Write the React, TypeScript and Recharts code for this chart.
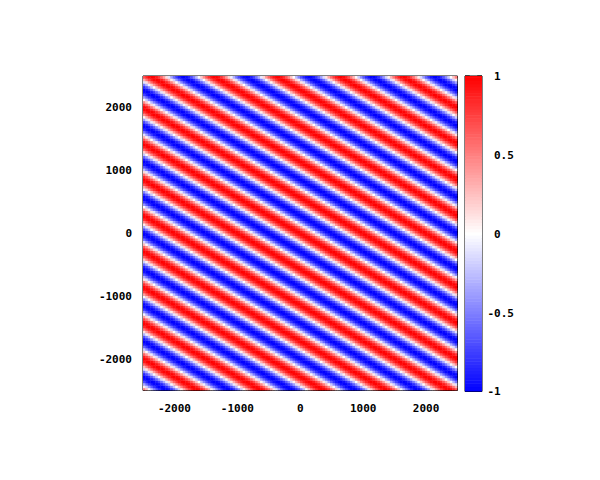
import React from 'react';
import { ScatterChart, Scatter, XAxis, YAxis, ReferenceArea, ReferenceLine } from 'recharts';

// Axis ranges and ticks
const xDomain: [number, number] = [-2500, 2500];
const yDomain: [number, number] = [-2500, 2500];
const xTicks = [-2000, -1000, 0, 1000, 2000];
const yTicks = [-2000, -1000, 0, 1000, 2000];
const cbDomain: [number, number] = [-1, 1];
const cbTicks = [-1, -0.5, 0, 0.5, 1];

// Plane-wave parameters read from the stripes (period along x and along y, data units)
const waveLengthX = 1000;
const waveLengthY = 570;
const gridSize = 126;

const gridCentres = Array.from({ length: gridSize }, (_, i) => xDomain[0] + ((i + 0.5) * (xDomain[1] - xDomain[0])) / gridSize);
const gridCentresY = Array.from({ length: gridSize }, (_, j) => yDomain[0] + ((j + 0.5) * (yDomain[1] - yDomain[0])) / gridSize);

const cells: { x: number; y: number; v: number }[] = [];
for (const y of gridCentresY) {
  for (const x of gridCentres) {
    cells.push({ x, y, v: Math.cos(2 * Math.PI * (x / waveLengthX + y / waveLengthY)) });
  }
}

// colour-bar levels (palette: blue - white - red)
const cbLevels = Array.from({ length: 101 }, (_, i) => cbDomain[0] + (i * (cbDomain[1] - cbDomain[0])) / 100);
const cbCells = cbLevels.map((v) => ({ x: 0.5, y: v, v }));

// layout
const W = 600;
const H = 480;
const PLOT_L = 143;
const PLOT_T = 76;
const PLOT_R = 457.5;
const PLOT_B = 390.5;
const PLOT_W = PLOT_R - PLOT_L;
const PLOT_H = PLOT_B - PLOT_T;
const CB_L = 465;
const CB_R = 482;
const CB_B = 391.5;
const CB_W = CB_R - CB_L;
const CB_H = CB_B - PLOT_T;

const FONT = { fontFamily: '"DejaVu Sans Mono", monospace', fontSize: 11, fontWeight: 700, fill: '#000' };

function colour(v: number): string {
  if (v >= 0) {
    const c = Math.round(255 * (1 - v));
    return `rgb(255,${c},${c})`;
  }
  const c = Math.round(255 * (1 + v));
  return `rgb(${c},${c},255)`;
}

const cw = PLOT_W / gridSize + 0.4;
const ch = PLOT_H / gridSize + 0.4;

const Cell = (props: any) => {
  const { cx, cy, payload } = props;
  if (cx == null || cy == null) return null;
  return <rect x={cx - cw / 2} y={cy - ch / 2} width={cw} height={ch} fill={colour(payload.v)} stroke="none" />;
};

const cbch = CB_H / (cbLevels.length - 1) + 0.5;
const CbCell = (props: any) => {
  const { cx, cy, payload } = props;
  if (cx == null || cy == null) return null;
  const top = Math.max(cy - cbch / 2, PLOT_T);
  const bot = Math.min(cy + cbch / 2, CB_B);
  return <rect x={cx - CB_W / 2} y={top} width={CB_W} height={bot - top} fill={colour(payload.v)} stroke="none" />;
};

const tickLenX = (6 / PLOT_W) * (xDomain[1] - xDomain[0]);
const tickLenY = (6 / PLOT_H) * (yDomain[1] - yDomain[0]);

const CbTick = (props: any) => {
  const { x, y, payload } = props;
  const v = payload.value as number;
  return (
    <text x={v < 0 ? x - 6.6 : x} y={y} dy="0.36em" textAnchor="start" {...FONT}>
      {String(v)}
    </text>
  );
};

export default function App() {
  const yAxisW = 60;
  const xAxisH = 30;
  const cbAxisW = 60;
  return (
    <div style={{ position: 'absolute', left: 0, top: 0, width: W, height: H, background: '#fff' }}>
      <div style={{ position: 'absolute', left: 0, top: 0 }}>
        <ScatterChart
          width={W}
          height={H}
          margin={{ left: PLOT_L - yAxisW, top: PLOT_T, right: W - PLOT_R, bottom: H - PLOT_B - xAxisH }}
        >
          <XAxis
            type="number"
            dataKey="x"
            domain={xDomain}
            ticks={xTicks}
            interval={0}
            allowDataOverflow
            height={xAxisH}
            tickLine={false}
            axisLine={false}
            tickSize={6}
            tickMargin={8}
            tick={FONT}
          />
          <YAxis
            type="number"
            dataKey="y"
            domain={yDomain}
            ticks={yTicks}
            interval={0}
            allowDataOverflow
            width={yAxisW}
            tickLine={false}
            axisLine={false}
            tickSize={6}
            tickMargin={5}
            tick={FONT}
          />
          <Scatter data={cells} shape={Cell} isAnimationActive={false} />
          <ReferenceArea x1={xDomain[0]} x2={xDomain[1]} y1={yDomain[0]} y2={yDomain[1]} fill="none" stroke="#000" strokeWidth={1} fillOpacity={0} strokeOpacity={1} />
          {xTicks.map((t) => (
            <ReferenceLine key={'b' + t} segment={[{ x: t, y: yDomain[0] }, { x: t, y: yDomain[0] + tickLenY }]} stroke="#000" strokeWidth={1} />
          ))}
          {xTicks.map((t) => (
            <ReferenceLine key={'t' + t} segment={[{ x: t, y: yDomain[1] }, { x: t, y: yDomain[1] - tickLenY }]} stroke="#000" strokeWidth={1} />
          ))}
          {yTicks.map((t) => (
            <ReferenceLine key={'l' + t} segment={[{ x: xDomain[0], y: t }, { x: xDomain[0] + tickLenX, y: t }]} stroke="#000" strokeWidth={1} />
          ))}
          {yTicks.map((t) => (
            <ReferenceLine key={'r' + t} segment={[{ x: xDomain[1], y: t }, { x: xDomain[1] - tickLenX, y: t }]} stroke="#000" strokeWidth={1} />
          ))}
        </ScatterChart>
      </div>
      <div style={{ position: 'absolute', left: 0, top: 0 }}>
        <ScatterChart
          width={W}
          height={H}
          margin={{ left: CB_L, top: PLOT_T, right: W - CB_R - cbAxisW, bottom: H - CB_B }}
        >
          <XAxis type="number" dataKey="x" domain={[0, 1]} hide />
          <YAxis
            type="number"
            dataKey="y"
            orientation="right"
            domain={cbDomain}
            ticks={cbTicks}
            interval={0}
            width={cbAxisW}
            tickLine={false}
            axisLine={false}
            tickSize={0}
            tickMargin={12}
            tick={<CbTick />}
          />
          <Scatter data={cbCells} shape={CbCell} isAnimationActive={false} />
          <ReferenceArea x1={0} x2={1} y1={cbDomain[0]} y2={cbDomain[1]} fill="none" fillOpacity={0} stroke="#000" strokeWidth={1} />
          {cbTicks.map((t) => (
            <ReferenceLine key={'cl' + t} segment={[{ x: 0, y: t }, { x: 0.28, y: t }]} stroke="#000" strokeWidth={1} />
          ))}
          {cbTicks.map((t) => (
            <ReferenceLine key={'cr' + t} segment={[{ x: 1, y: t }, { x: 0.72, y: t }]} stroke="#000" strokeWidth={1} />
          ))}
        </ScatterChart>
      </div>
    </div>
  );
}
